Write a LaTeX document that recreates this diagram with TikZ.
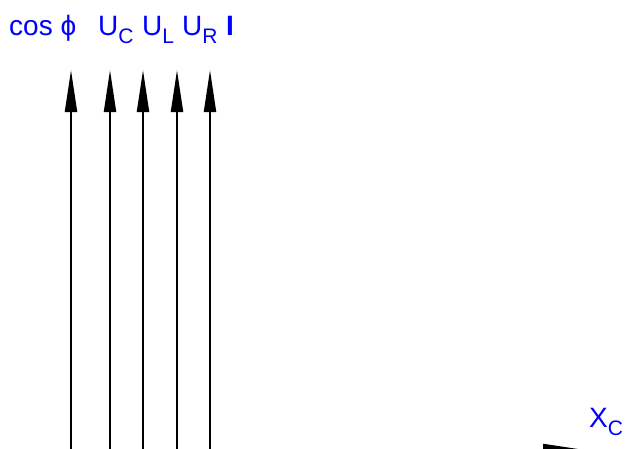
\documentclass[tikz,border=0pt]{standalone}
\usepackage{fontspec}
\setmainfont{Liberation Sans}
\usetikzlibrary{arrows.meta}
\newcommand{\lowidx}[1]{\raisebox{-8pt}{\fontsize{21}{21}\selectfont #1}}
\begin{document}
\begin{tikzpicture}[x=1pt, y=-1pt, >={Triangle[length=42pt,width=12pt]},
  axis/.style={->, line width=2pt},
  lbl/.style={text=blue, font=\fontsize{28}{32}\selectfont, anchor=base west, inner sep=0pt}]
  \useasboundingbox (0,0) rectangle (630,448);
  \clip (0,0) rectangle (630,448);
  % vertical axes
  \foreach \name/\x in {cphi/71, uc/110, ul/143, ur/177, cur/210} {
    \coordinate (\name-low) at (\x,470);
    \coordinate (\name-top) at (\x,70);
    \draw[axis] (\name-low) -- (\name-top);
  }
  % horizontal axis
  \coordinate (xc-low) at (450,450);
  \coordinate (xc-top) at (585,450);
  \draw[axis] (xc-low) -- (xc-top);
  % labels
  \node[lbl] (cphi-lbl) at (9,35) {cos ϕ};
  \node[lbl] (uc-lbl) at (98,35) {U\lowidx{C}};
  \node[lbl] (ul-lbl) at (142,35) {U\lowidx{L}};
  \node[lbl] (ur-lbl) at (182,35) {U\lowidx{R}};
  \node[lbl] (cur-lbl) at (226,35) {\textbf{I}};
  \node[lbl] (xc-lbl) at (589,427) {X\lowidx{C}};
\end{tikzpicture}
\end{document}
